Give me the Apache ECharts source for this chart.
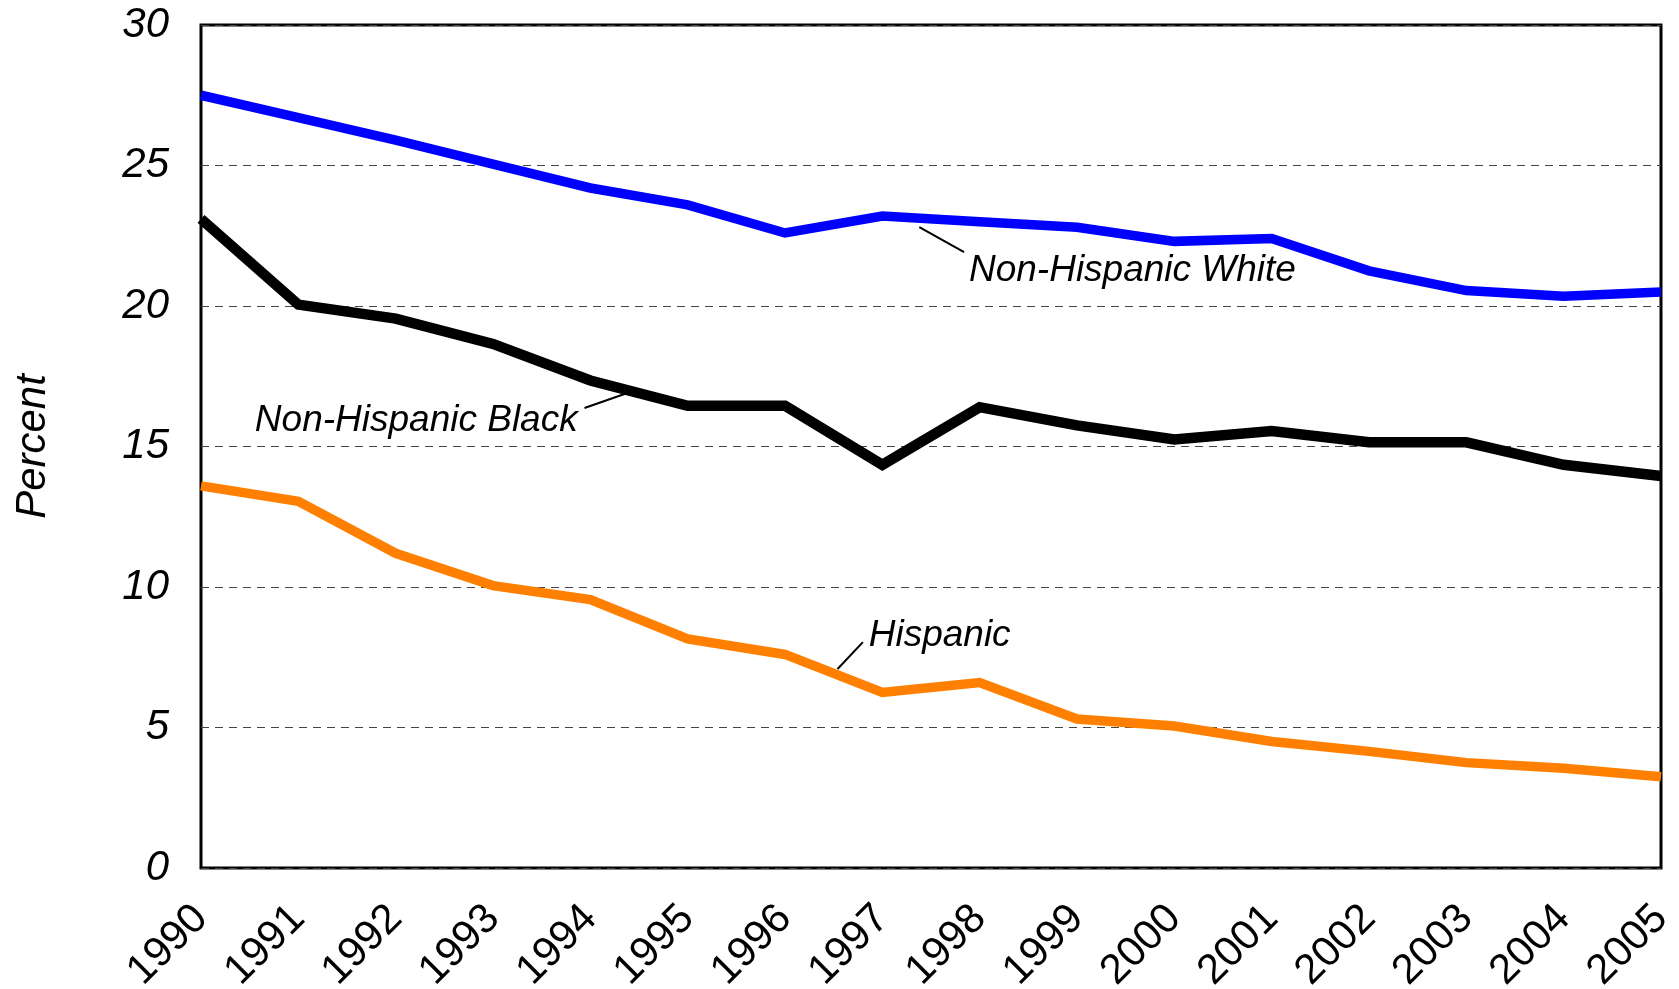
<!DOCTYPE html>
<html>
<head>
<meta charset="utf-8">
<script src="https://cdn.jsdelivr.net/npm/echarts@6/dist/echarts.min.js"></script>
<style>
  html, body { margin: 0; padding: 0; background: #fff; }
  #chart { width: 1679px; height: 989px; }
</style>
</head>
<body>
<div id="chart"></div>
<script>
const years = [1990, 1991, 1992, 1993, 1994, 1995, 1996, 1997, 1998, 1999, 2000, 2001, 2002, 2003, 2004, 2005];
const white = [27.5, 26.7, 25.9, 25.05, 24.2, 23.6, 22.6, 23.2, 23.0, 22.8, 22.3, 22.4, 21.25, 20.55, 20.35, 20.5];
const black = [23.1, 20.05, 19.55, 18.65, 17.35, 16.45, 16.45, 14.35, 16.4, 15.75, 15.25, 15.55, 15.15, 15.15, 14.35, 13.95];
const hispanic = [13.6, 13.05, 11.2, 10.05, 9.55, 8.15, 7.6, 6.25, 6.6, 5.3, 5.05, 4.5, 4.15, 3.75, 3.55, 3.25];
const seriesNames = ["Non-Hispanic White", "Non-Hispanic Black", "Hispanic"];

const font = "'Liberation Sans', Arial, sans-serif";
const chart = echarts.init(document.getElementById("chart"));

function pairs(values) {
    return values.map((v, i) => [years[i], v]);
}

chart.setOption({
    animation: false,
    grid: {
        left: 201, right: 18, top: 25, bottom: 121,
        outerBoundsMode: "none", containLabel: false,
        show: true, borderColor: "#000", borderWidth: 3, backgroundColor: "#fff"
    },
    xAxis: {
        type: "value", min: 1990, max: 2005, interval: 1,
        axisLine: { show: false },
        axisTick: { show: false },
        splitLine: { show: false },
        axisLabel: {
            rotate: 45, margin: 44, showMinLabel: true, showMaxLabel: true,
            fontFamily: font, fontSize: 42, color: "#000",
            formatter: v => String(v)
        }
    },
    yAxis: {
        type: "value", min: 0, max: 30, interval: 5,
        name: "Percent", nameLocation: "middle", nameGap: 147,
        nameTextStyle: { fontFamily: font, fontStyle: "italic", fontSize: 42, color: "#000" },
        axisLine: { show: false },
        axisTick: { show: false },
        axisLabel: { margin: 32, fontFamily: font, fontStyle: "italic", fontSize: 42, color: "#000" },
        splitLine: { show: true, lineStyle: { color: "#444", width: 1, type: [8, 6] } }
    },
    series: [
        { name: seriesNames[0], type: "line", data: pairs(white), symbol: "none",
          lineStyle: { color: "#0000ff", width: 9.5, join: "miter" }, z: 3 },
        { name: seriesNames[1], type: "line", data: pairs(black), symbol: "none",
          lineStyle: { color: "#000", width: 10.5, join: "miter" }, z: 3 },
        { name: seriesNames[2], type: "line", data: pairs(hispanic), symbol: "none",
          lineStyle: { color: "#ff8000", width: 9.5, join: "miter" }, z: 3 }
    ]
});

// annotation anchors in data space: leader start, leader end, text anchor
const notes = [
    { text: seriesNames[0], from: [1997.38, 22.81], to: [1997.84, 21.92], at: [1997.89, 21.26], align: "left" },
    { text: seriesNames[1], from: [1994.41, 16.94], to: [1993.94, 16.37], at: [1993.87, 15.93], align: "right" },
    { text: seriesNames[2], from: [1996.54, 7.08], to: [1996.80, 8.04], at: [1996.86, 8.28], align: "left" }
];

const graphics = [];
notes.forEach(n => {
    const p1 = chart.convertToPixel({ gridIndex: 0 }, n.from);
    const p2 = chart.convertToPixel({ gridIndex: 0 }, n.to);
    const pt = chart.convertToPixel({ gridIndex: 0 }, n.at);
    graphics.push({
        type: "line", z: 10,
        shape: { x1: p1[0], y1: p1[1], x2: p2[0], y2: p2[1] },
        style: { stroke: "#000", lineWidth: 2 }
    });
    graphics.push({
        type: "text", z: 10, x: pt[0], y: pt[1],
        style: {
            text: n.text, fill: "#000", font: "italic 37px " + font,
            textAlign: n.align, textVerticalAlign: "middle"
        }
    });
});
chart.setOption({ graphic: graphics });
</script>
</body>
</html>
